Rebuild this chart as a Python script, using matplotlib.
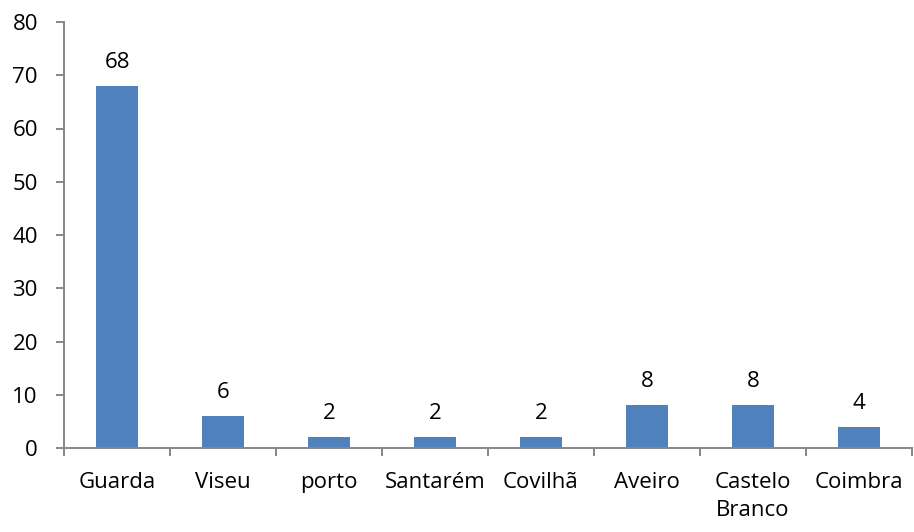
import matplotlib

matplotlib.use("Agg")
import matplotlib.pyplot as plt
import numpy as np

CITIES = ["Guarda", "Viseu", "porto", "Santarém", "Covilhã", "Aveiro", "Castelo\nBranco", "Coimbra"]
COUNTS = [68, 6, 2, 2, 2, 8, 8, 4]
Y_TICKS = [0, 10, 20, 30, 40, 50, 60, 70, 80]

BAR_COLOR = "#4F81BD"
AXIS_COLOR = "#868686"
FS = 16

plt.rcParams["font.family"] = ["Open Sans", "DejaVu Sans"]

fig = plt.figure(figsize=(9.14, 5.32), dpi=100)
ax = fig.add_axes([64 / 914, 84 / 532, 848 / 914, 426 / 532])

x = np.arange(len(CITIES))
ax.bar(x, COUNTS, width=0.4, color=BAR_COLOR, zorder=2)

# value labels, baseline ~18 px above each bar
for xi, v in zip(x, COUNTS):
    ax.annotate(str(v), (xi, v), xytext=(0, 13), textcoords="offset points",
                ha="center", va="baseline", fontsize=FS)

ax.set_xlim(-0.5, len(CITIES) - 0.5)
ax.set_ylim(0, 80)
ax.set_yticks(Y_TICKS)
ax.set_yticklabels([str(t) for t in Y_TICKS], fontsize=FS)

# category labels between tick marks, ticks at category boundaries
ax.set_xticks(np.arange(len(CITIES) + 1) - 0.5)
ax.set_xticklabels([])
ax.set_xticks(x, minor=True)
ax.set_xticklabels(CITIES, minor=True, fontsize=FS, linespacing=1.45, va="top")
ax.tick_params(axis="x", which="minor", length=0, pad=17)
ax.tick_params(axis="x", which="major", length=5.5, width=1.4, color=AXIS_COLOR, direction="out")
ax.tick_params(axis="y", length=5.8, width=1.4, color=AXIS_COLOR, direction="out", pad=13)

for side in ("top", "right"):
    ax.spines[side].set_visible(False)
for side in ("left", "bottom"):
    ax.spines[side].set_color(AXIS_COLOR)
    ax.spines[side].set_linewidth(1.4)

fig.savefig("out.png", dpi=100)
